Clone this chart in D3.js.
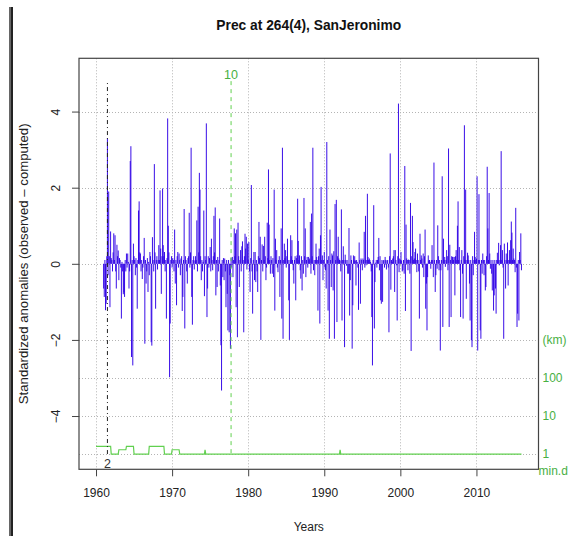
<!DOCTYPE html>
<html>
<head>
<meta charset="utf-8">
<script src="https://cdn.jsdelivr.net/npm/d3@7"></script>
<style>
  html, body { margin: 0; padding: 0; background: #fff; }
  svg { display: block; }
  text { font-family: "Liberation Sans", Arial, sans-serif; }
</style>
</head>
<body>
<svg id="chart" width="572" height="536"></svg>
<script>
// ---------------- DATA ----------------
const title = "Prec at 264(4), SanJeronimo";
const yLabel = "Standardized anomalies (observed \u2013 computed)";
const xLabel = "Years";
const firstYear = 1961;          // monthly series starts Jan 1961
// standardized anomalies, monthly, 1961-2015 (one row per year)
const anomalies = [
  -0.65,-0.87,0.1,-1.22,-1.05,0.2,3.3,-0.3,1.9,0.2,-1.14,0.85,
  0.15,0.1,-0.2,0.3,0.8,0.1,0.75,-0.2,-0.65,0.5,0.2,0.35,
  -0.43,0.15,0.1,-0.1,-1.44,0.05,-0.2,-0.8,-0.75,-0.87,0.1,-0.2,
  0.27,-0.1,0.27,0.05,-0.65,-0.2,2.7,3.09,-2.45,0.1,-2.67,0.53,
  0.2,0.1,-0.3,0.15,-0.1,-1.18,0.1,1.4,1.64,0.3,0.27,-0.2,
  0.1,-0.4,-0.1,0.2,0.68,-2.1,0.1,-0.52,-0.2,0.15,-0.74,0.05,
  -0.3,0.31,0.2,-2.06,-2.15,0.7,0.1,-0.2,2.62,0.3,-1.18,0.1,
  0.2,-0.15,0.1,0.49,0.1,1.93,0.4,-0.79,0.2,1.98,0.49,0.2,
  0.31,-0.2,0.1,-1.44,0.15,3.82,1.0,0.3,-2.98,-1.57,0.1,0.2,
  -0.1,0.15,0.1,-0.2,0.9,-0.52,0.1,-1.09,0.2,0.31,-0.1,0.27,
  0.1,-0.3,0.14,0.2,-1.24,-0.87,0.1,1.44,-1.7,0.2,0.1,-0.2,
  -0.52,0.15,0.2,1.34,-0.1,0.3,3.05,-0.87,-1.6,0.1,0.2,-0.15,
  0.09,0.2,0.1,1.14,-0.2,1.5,0.3,2.39,1.95,0.2,-0.43,0.1,
  -0.2,0.05,1.4,-0.85,0.2,0.1,3.69,-1.4,-0.65,0.2,-0.1,0.15,
  0.44,-0.2,0.66,0.1,-0.17,0.2,1.26,0.3,1.48,-0.83,0.1,-0.61,
  0.18,-0.2,0.1,1.19,-0.57,-2.14,-3.33,0.1,-0.35,0.15,-0.43,0.14,
  -0.2,-1.14,0.1,-0.79,-1.75,0.1,-1.8,-0.3,-2.23,0.15,-0.1,0.18,
  -0.35,0.1,0.93,0.2,0.8,-1.14,0.9,-1.93,1.08,0.2,-0.61,0.1,
  0.36,-0.2,0.46,0.59,0.1,-1.8,0.2,0.79,0.4,0.71,-0.15,0.53,
  0.1,0.57,-0.2,-0.74,0.15,2.07,-0.2,-1.31,0.1,0.31,-0.43,0.31,
  -0.48,0.1,-0.2,-0.74,0.2,1.1,0.15,0.71,-2.0,0.1,0.51,-0.2,
  0.47,0.1,0.71,0.2,-0.43,-0.1,1.08,0.15,2.48,1.03,0.1,-0.26,
  0.2,0.1,-0.26,0.15,-0.35,1.95,-1.23,0.66,0.1,0.36,-0.1,-0.22,
  0.1,0.2,-0.87,0.1,0.93,-1.44,3.05,-1.97,0.1,0.53,0.15,0.36,
  -0.1,0.2,0.66,0.1,-0.96,-2.0,0.1,0.75,0.2,0.62,0.1,-0.17,
  -0.52,0.1,0.2,-0.96,0.15,0.22,1.71,0.6,0.1,0.22,-0.17,-0.39,
  0.2,-0.7,0.1,-0.26,1.73,0.2,0.93,-0.35,0.1,0.18,-0.1,0.18,
  0.1,0.14,1.1,-0.26,1.32,0.2,3.05,-0.17,0.1,-0.3,0.1,0.53,
  0.18,0.1,-1.23,0.2,0.4,-1.57,0.75,2.02,0.1,0.22,-0.43,0.1,
  0.31,-0.1,-0.17,-0.65,3.2,0.1,-1.23,0.2,-1.97,0.9,0.1,-0.61,
  0.27,0.22,-0.7,0.33,-1.97,1.57,0.1,1.68,-1.53,0.2,0.71,0.14,
  0.1,0.09,-0.2,1.43,-1.49,0.1,0.46,0.1,-2.19,0.24,0.1,-0.05,
  0.1,-0.26,-0.26,0.94,-1.36,-0.43,0.22,0.1,-2.23,-1.09,0.22,0.09,
  0.2,0.09,-0.57,0.1,0.05,-0.1,-1.21,0.56,0.1,-1.05,0.14,0.1,
  -0.17,0.14,0.1,0.84,-0.1,1.26,-0.04,0.1,1.84,0.18,0.1,0.14,
  0.1,0.05,-0.2,-1.4,-2.67,0.1,1.54,-1.7,-0.48,0.03,0.1,-0.1,
  0.1,0.18,0.68,-0.17,0.2,-0.96,-1.05,0.1,-1.0,0.09,0.1,-0.1,
  0.18,0.1,-0.15,0.09,0.1,-0.1,-1.8,0.2,2.9,-0.68,0.1,0.05,
  0.14,0.2,0.36,-0.74,0.36,0.1,-0.04,-1.49,0.2,4.21,-0.22,0.14,
  0.1,0.31,0.09,-0.2,-0.17,0.1,-0.26,2.57,-1.24,1.03,0.14,0.1,
  -0.17,0.11,0.1,-0.26,1.6,-2.29,0.2,1.26,0.57,0.1,0.14,0.31,
  0.4,0.1,-0.22,0.27,0.1,-0.2,-1.44,0.79,0.1,0.22,0.14,-0.1,
  0.27,-0.35,0.2,0.9,-1.18,-0.52,-1.75,-0.35,0.22,0.09,0.1,0.05,
  -0.13,0.1,0.49,0.1,-0.35,2.66,0.1,-0.74,-0.3,0.1,-0.13,1.01,
  0.2,-0.17,0.1,-2.28,-0.17,0.1,2.3,-1.66,0.66,0.1,0.18,-0.08,
  0.1,0.36,0.2,-0.17,3.03,-1.66,0.5,0.1,-1.4,0.2,0.18,0.18,
  0.1,0.18,-0.83,0.2,0.36,0.1,1.0,1.64,0.1,0.44,-0.17,-1.4,
  0.1,0.36,-0.26,-1.44,0.2,3.64,0.1,1.95,-0.92,0.1,0.29,0.22,
  0.1,-0.52,-1.49,0.1,-2.01,-2.19,0.2,-0.3,0.1,0.84,0.18,0.1,
  0.14,2.3,-2.28,0.1,1.83,0.1,-1.75,-1.97,0.1,-0.26,0.27,0.1,
  -0.3,0.1,-0.7,-0.61,0.2,2.55,0.93,0.1,1.86,0.27,-0.13,0.1,
  -0.26,-0.7,0.1,-1.23,-0.83,0.1,-0.65,-1.31,0.1,0.29,0.1,0.55,
  -0.04,0.1,0.49,2.96,0.1,0.36,-0.1,-1.97,0.53,0.1,-0.65,0.27,
  0.1,0.56,-0.57,0.1,0.36,0.1,0.62,1.11,0.82,0.1,0.4,0.14,
  0.1,-0.22,1.47,-0.1,-1.66,-1.31,0.1,-1.49,0.31,0.1,0.8,-0.17
];
// minimum distance to nearest neighbour station (km)
const minDistYear = [1960,1961.92,1962,1962.92,1963,1963.92,1964,1964.92,1965,1966.92,1967,1968.92,1969,1969.92,1970,1970.92,1971,1974.25,1974.33,1974.42,1992.0,1992.08,1992.17,2015.92];
const minDistKm   = [1.6,1.6,1,1,1.3,1.3,1.6,1.6,1,1,1.6,1.6,1,1,1.3,1.3,1,1,1.3,1,1,1.3,1,1];
// detected breaks (vertical markers)
const breakYears  = [1961.5, 1977.75];
const breakLabels = ["2", "10"];
const breakTops   = [4.75, 4.8];
const xTicks = [1960, 1970, 1980, 1990, 2000, 2010];
const yTicks = [-4, -2, 0, 2, 4];
const kmTicks = [1, 10, 100];
const kmUnitLabel = "(km)";
const minDistLabel = "min.d";
const xRange = [1960, 2015.92];
const yRange = [-5, 5];

// ---------------- LAYOUT ----------------
const svg = d3.select("#chart");
const W = 572, H = 536;
const plot = { left: 79, right: 538.5, top: 58.3, bottom: 469.3 };
const expand = (r) => { const d = (r[1] - r[0]) * 0.04; return [r[0] - d, r[1] + d]; };
const x = d3.scaleLinear().domain(expand(xRange)).range([plot.left, plot.right]);
const y = d3.scaleLinear().domain(expand(yRange)).range([plot.bottom, plot.top]);
const kmY = (km) => y(-5 + Math.log10(km));

const blue = "#2E00E6";
const green = "#61D04F";
const greenText = "#48B043";
const gridCol = "#b4b4b4";

svg.append("rect").attr("width", W).attr("height", H).attr("fill", "#fff");
// left frame decoration
svg.append("rect").attr("x", 9).attr("y", 7).attr("width", 2).attr("height", H - 7).attr("fill", "#666");
svg.append("rect").attr("x", 11).attr("y", 7).attr("width", 2).attr("height", H - 7).attr("fill", "#222");

// grid
const grid = svg.append("g").attr("stroke", gridCol).attr("stroke-dasharray", "1,2").attr("stroke-width", 1);
xTicks.forEach(t => grid.append("line")
  .attr("x1", Math.round(x(t)) + 0.5).attr("x2", Math.round(x(t)) + 0.5)
  .attr("y1", plot.top).attr("y2", plot.bottom));
const hGrid = yTicks.concat(kmTicks.map(k => -5 + Math.log10(k)), [-2]);
Array.from(new Set(hGrid)).forEach(v => grid.append("line")
  .attr("x1", plot.left).attr("x2", plot.right)
  .attr("y1", Math.round(y(v)) + 0.5).attr("y2", Math.round(y(v)) + 0.5));

// anomaly bars (type 'h')
const bars = svg.append("g").attr("stroke", blue).attr("stroke-width", 0.95);
anomalies.forEach((v, i) => {
  const t = firstYear + i / 12;
  bars.append("line")
    .attr("x1", x(t)).attr("x2", x(t))
    .attr("y1", y(0)).attr("y2", y(v));
});

// min distance line
const minDist = minDistYear.map((t, i) => [t, minDistKm[i]]);
svg.append("path")
  .datum(minDist)
  .attr("fill", "none").attr("stroke", green).attr("stroke-width", 1.2)
  .attr("d", d3.line().x(d => x(d[0])).y(d => kmY(d[1])));

// break markers
breakYears.forEach((t, i) => {
  const isFirst = i === 0;
  svg.append("line")
    .attr("x1", x(t)).attr("x2", x(t))
    .attr("y1", y(breakTops[i])).attr("y2", y(-5))
    .attr("stroke", isFirst ? "#222" : green)
    .attr("stroke-width", 1)
    .attr("stroke-dasharray", isFirst ? "1,3,4,3" : "4,4");
  svg.append("text")
    .attr("x", x(t)).attr("y", isFirst ? y(-5) + 13.5 : y(breakTops[i]) - 2)
    .attr("text-anchor", "middle").attr("font-size", 12.5)
    .attr("fill", isFirst ? "#333" : greenText)
    .text(breakLabels[i]);
});

// box
svg.append("rect")
  .attr("x", plot.left).attr("y", plot.top)
  .attr("width", plot.right - plot.left).attr("height", plot.bottom - plot.top)
  .attr("fill", "none").attr("stroke", "#444").attr("stroke-width", 1.2);

// x axis
const xAxis = svg.append("g").attr("transform", `translate(0,${plot.bottom})`)
  .call(d3.axisBottom(x).tickValues(xTicks).tickSize(7).tickFormat(d3.format("d")));
xAxis.select(".domain").remove();
xAxis.selectAll("line").attr("stroke", "#444");
xAxis.selectAll("text").attr("font-size", 12).attr("fill", "#222").attr("dy", 0).attr("y", 28.2)
  .style("font-family", "'Liberation Sans', Arial, sans-serif");

// y axis
const yAxis = svg.append("g").attr("transform", `translate(${plot.left},0)`)
  .call(d3.axisLeft(y).tickValues(yTicks).tickSize(7).tickFormat(d => d < 0 ? "\u2212" + Math.abs(d) : d));
yAxis.select(".domain").remove();
yAxis.selectAll("line").attr("stroke", "#444");
yAxis.selectAll("text")
  .attr("font-size", 12).attr("fill", "#222")
  .attr("x", null).attr("dy", null)
  .attr("text-anchor", "middle")
  .attr("transform", "translate(-19,0) rotate(-90)")
  .style("font-family", "'Liberation Sans', Arial, sans-serif");

// right-side km labels
const kmG = svg.append("g").attr("font-size", 12).attr("fill", greenText);
kmTicks.forEach(k => kmG.append("text").attr("x", 542.5).attr("y", kmY(k) + 4.3).text(k));
kmG.append("text").attr("x", 542.5).attr("y", y(-2) + 4.3).text(kmUnitLabel);
kmG.append("text").attr("x", 538.5).attr("y", 475).text(minDistLabel);

// title & labels
svg.append("text").attr("x", (plot.left + plot.right) / 2).attr("y", 30)
  .attr("text-anchor", "middle").attr("font-size", 13.8).attr("font-weight", "bold").attr("fill", "#111")
  .text(title);
svg.append("text").attr("x", (plot.left + plot.right) / 2).attr("y", 530.5)
  .attr("text-anchor", "middle").attr("font-size", 12).attr("fill", "#222")
  .text(xLabel);
svg.append("text")
  .attr("transform", `translate(27.8,${(plot.top + plot.bottom) / 2}) rotate(-90)`)
  .attr("text-anchor", "middle").attr("font-size", 13.2).attr("fill", "#222")
  .text(yLabel);
</script>
</body>
</html>
